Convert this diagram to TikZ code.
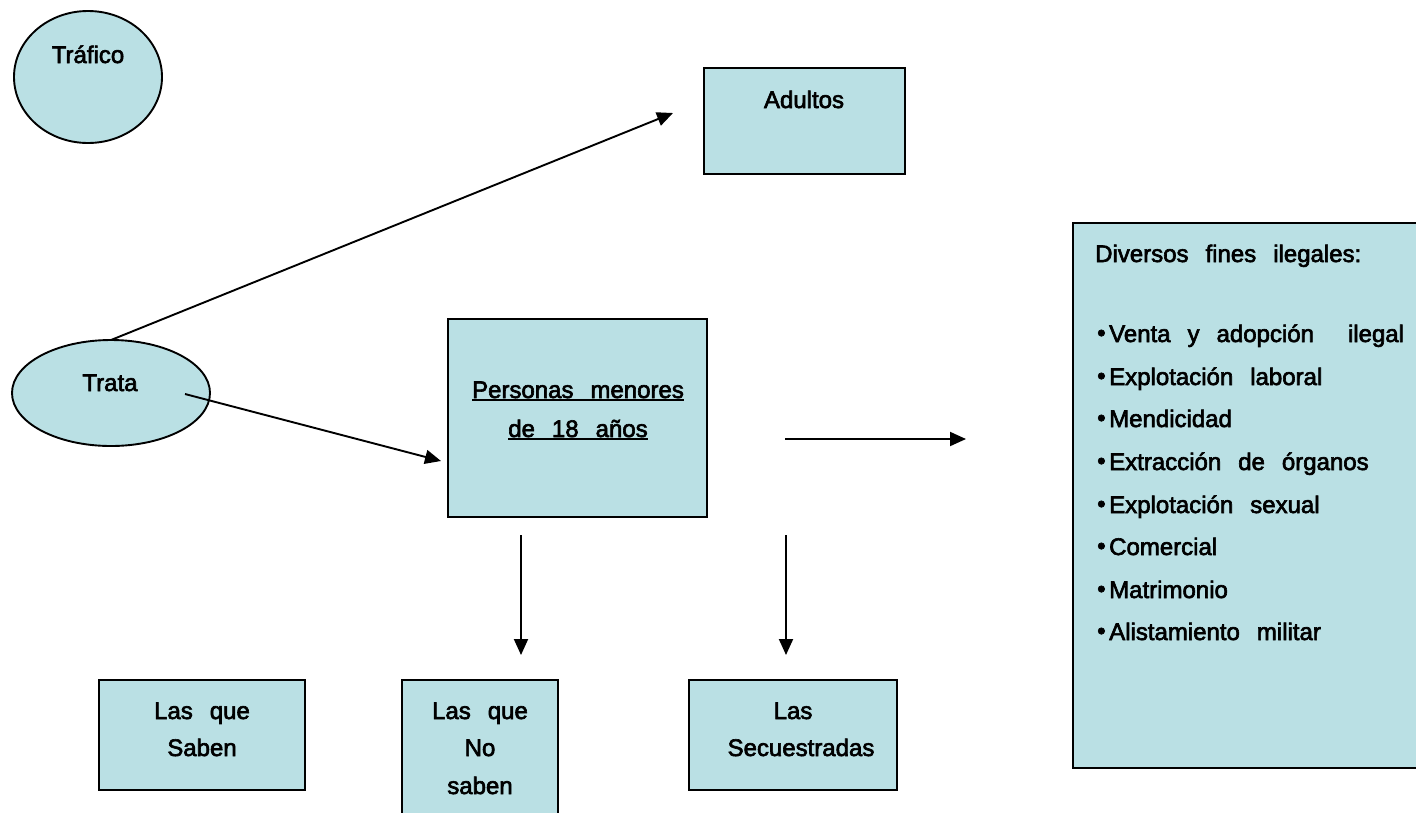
\documentclass[tikz,border=0pt]{standalone}
\usepackage{fontspec}
\setmainfont{Liberation Sans}
\newfontfamily\heavy{Liberation Sans}[FakeBold=2.6]
\usetikzlibrary{shapes.geometric,arrows.meta}
\definecolor{fillc}{RGB}{186,224,228}
\newcommand\ff{\heavy\fontsize{24}{28}\selectfont\spaceskip=17pt\relax}
\newcommand\bul{\makebox[12pt][l]{\raisebox{1pt}{•}}}
\newcommand\ul[1]{\setbox0\hbox{#1}\rlap{\rule[-3pt]{\wd0}{1.6pt}}\box0}
\begin{document}
\begin{tikzpicture}[x=1pt,y=-1pt,
  shapebox/.style={draw=black, line width=1.9pt, fill=fillc, inner sep=0pt, outer sep=0pt},
  ovalbox/.style={shapebox, ellipse},
  rectbox/.style={shapebox, rectangle},
  txt/.style={inner sep=0pt, anchor=base, font=\ff},
  ltxt/.style={inner sep=0pt, anchor=base west, font=\ff},
  conn/.style={line width=1.9pt, -{Triangle[length=16pt,width=14pt]}}]
\useasboundingbox (0,0) rectangle (1416,812);
\fill[white] (0,0) rectangle (1416,812);

% Tráfico
\node[ovalbox, minimum width=148pt, minimum height=132pt] (trafico) at (88,77) {};
\node[txt] (traficot) at (88,63) {Tráfico};

% Adultos
\node[rectbox, minimum width=201pt, minimum height=106pt] (adultos) at (804.5,121) {};
\node[txt] (adultost) at (804,108) {Adultos};

% Diversos fines
\node[rectbox, minimum width=347pt, minimum height=545pt] (fines) at (1246.5,495.5) {};
\node[ltxt] (f0) at (1095,262) {Diversos fines ilegales:};
\node[ltxt] (f1) at (1097,342) {\bul Venta y adopción\ \ ilegal};
\node[ltxt] (f2) at (1097,385) {\bul Explotación laboral};
\node[ltxt] (f3) at (1097,427) {\bul Mendicidad};
\node[ltxt] (f4) at (1097,470) {\bul Extracción de órganos};
\node[ltxt] (f5) at (1097,513) {\bul Explotación sexual};
\node[ltxt] (f6) at (1097,555) {\bul Comercial};
\node[ltxt] (f7) at (1097,598) {\bul Matrimonio};
\node[ltxt] (f8) at (1097,640) {\bul Alistamiento militar};

% Trata
\node[ovalbox, minimum width=198pt, minimum height=106pt] (trata) at (111,393) {};
\node[txt] (tratat) at (110,391) {Trata};

% Personas menores
\node[rectbox, minimum width=259pt, minimum height=198pt] (personas) at (577.5,418) {};
\node[txt] (p1) at (578,398) {\ul{Personas menores}};
\node[txt] (p2) at (578,437) {\ul{de 18 años}};

% bottom boxes
\node[rectbox, minimum width=206pt, minimum height=110pt] (saben) at (202,735) {};
\node[txt] (s1) at (202,719) {Las que};
\node[txt] (s2) at (202,756) {Saben};

\node[rectbox, minimum width=156pt, minimum height=136pt] (nosaben) at (480,748) {};
\node[txt] (n1) at (480,719) {Las que};
\node[txt] (n2) at (480,756) {No};
\node[txt] (n3) at (480,794) {saben};

\node[rectbox, minimum width=208pt, minimum height=110pt] (secuestradas) at (793,735) {};
\node[txt] (q1) at (793,719) {Las};
\node[txt] (q2) at (801,756) {Secuestradas};

% connectors
\coordinate (a1e) at (673,113);
\coordinate (a2s) at (185,394);
\coordinate (a2e) at (441,461);
\coordinate (a3s) at (785,439);
\coordinate (a3e) at (966,439);
\coordinate (a4s) at (521,535);
\coordinate (a4e) at (521,655);
\coordinate (a5s) at (786,535);
\coordinate (a5e) at (786,655);

\draw[conn] (trata.north) -- (a1e);
\draw[conn] (a2s) -- (a2e);
\draw[conn] (a3s) -- (a3e);
\draw[conn] (a4s) -- (a4e);
\draw[conn] (a5s) -- (a5e);
\end{tikzpicture}
\end{document}
